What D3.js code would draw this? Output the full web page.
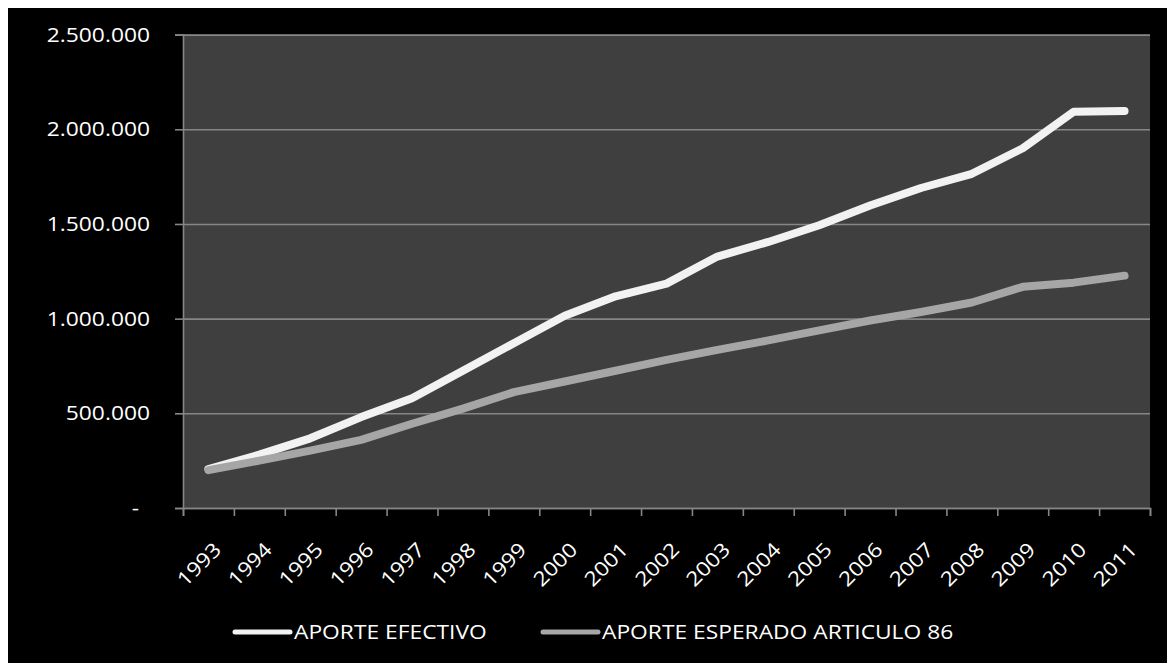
<!DOCTYPE html>
<html>
<head>
<meta charset="utf-8">
<script src="https://cdn.jsdelivr.net/npm/d3@7/dist/d3.min.js"></script>
<style>
  html, body { margin: 0; padding: 0; background: #ffffff; }
  svg { display: block; }
  text { font-family: "Open Sans", "DejaVu Sans", sans-serif; fill: #ffffff; }
</style>
</head>
<body>
<script>
// ---- data ----
const years = ["1993","1994","1995","1996","1997","1998","1999","2000","2001","2002",
               "2003","2004","2005","2006","2007","2008","2009","2010","2011"];
const aporteEfectivo = [205000, 282000, 368000, 480000, 580000, 725000, 870000, 1015000, 1118000, 1185000,
                        1328000, 1405000, 1493000, 1597000, 1690000, 1765000, 1900000, 2093000, 2097000];
const aporteEsperado = [200000, 250000, 303000, 360000, 445000, 525000, 612000, 668000, 725000, 782000,
                        835000, 885000, 938000, 990000, 1035000, 1085000, 1168000, 1190000, 1227000];
const yTickValues = [0, 500000, 1000000, 1500000, 2000000, 2500000];
const yTickLabels = ["-", "500.000", "1.000.000", "1.500.000", "2.000.000", "2.500.000"];
const seriesNames = ["APORTE EFECTIVO", "APORTE ESPERADO ARTICULO 86"];
const seriesColors = ["#f2f2f2", "#a6a6a6"];

const W = 1167, H = 663;
const FS = 20, SX = 1.14;   // font size and horizontal stretch of text
const svg = d3.select("body").append("svg").attr("width", W).attr("height", H);

// chart background (black) with thin white frame at top/left
svg.append("rect").attr("x", 8).attr("y", 8).attr("width", W - 8).attr("height", H - 8).attr("fill", "#000000");

const plot = { left: 183, right: 1150, top: 34.6, bottom: 508 };

const x = d3.scaleBand().domain(years).range([plot.left, plot.right]);
const xEdge = d3.scaleLinear().domain([0, years.length]).range([plot.left, plot.right]);
const y = d3.scaleLinear().domain([0, 2500000]).range([plot.bottom, plot.top]);

// plot area
svg.append("rect")
  .attr("x", plot.left).attr("y", plot.top)
  .attr("width", plot.right - plot.left).attr("height", plot.bottom - plot.top)
  .attr("fill", "#3f3f3f");

const gridColor = "#868686";

// horizontal gridlines
const grid = svg.append("g").attr("transform", `translate(${plot.left},0)`)
  .call(d3.axisLeft(y).tickValues(yTickValues).tickSize(-(plot.right - plot.left)).tickFormat(""));
grid.select(".domain").remove();
grid.selectAll("line").attr("stroke", gridColor).attr("stroke-width", 1.6);

// y axis
const yAxis = svg.append("g").attr("transform", `translate(${plot.left},0)`)
  .call(d3.axisLeft(y).tickValues(yTickValues).tickSize(8).tickFormat(""));
yAxis.select(".domain").attr("stroke", gridColor).attr("stroke-width", 1.6);
yAxis.selectAll("line").attr("stroke", gridColor).attr("stroke-width", 1.6);

// y labels (stretched horizontally)
svg.append("g").selectAll("text").data(yTickValues).join("text")
  .attr("transform", (d) => `translate(${d === 0 ? 139 : 150},${y(d)}) scale(${SX},1)`)
  .attr("text-anchor", "end")
  .attr("dy", "0.35em")
  .attr("font-size", FS)
  .text((d, i) => yTickLabels[i]);

// x axis (ticks at band edges)
const xAxis = svg.append("g").attr("transform", `translate(0,${plot.bottom})`)
  .call(d3.axisBottom(xEdge).tickValues(d3.range(years.length + 1)).tickSize(8).tickFormat(""));
xAxis.select(".domain").attr("stroke", gridColor).attr("stroke-width", 1.6);
xAxis.selectAll("line").attr("stroke", gridColor).attr("stroke-width", 1.6);

// x labels, rotated
svg.append("g").selectAll("text").data(years).join("text")
  .attr("transform", d => `translate(${x(d) + x.bandwidth() / 2 + 9},${plot.bottom + 38}) rotate(-45) scale(${SX},1)`)
  .attr("text-anchor", "end")
  .attr("dy", "0.35em")
  .attr("font-size", FS)
  .text(d => d);

// lines
const line = d3.line()
  .x((d, i) => x(years[i]) + x.bandwidth() / 2)
  .y(d => y(d));

[aporteEfectivo, aporteEsperado].forEach((vals, k) => {
  svg.append("path")
    .datum(vals)
    .attr("d", line)
    .attr("fill", "none")
    .attr("stroke", seriesColors[k])
    .attr("stroke-width", 8)
    .attr("stroke-linejoin", "round")
    .attr("stroke-linecap", "round");
});

// legend
const legendItems = [
  { x0: 235, x1: 290, tx: 294 },
  { x0: 543, x1: 598, tx: 602 }
];
const legendY = 632;
const lg = svg.append("g");
legendItems.forEach((it, k) => {
  lg.append("line")
    .attr("x1", it.x0).attr("x2", it.x1).attr("y1", legendY).attr("y2", legendY)
    .attr("stroke", seriesColors[k]).attr("stroke-width", 5).attr("stroke-linecap", "round");
  lg.append("text")
    .attr("transform", `translate(${it.tx},${legendY}) scale(${SX},1)`)
    .attr("dy", "0.35em")
    .attr("font-size", FS)
    .text(seriesNames[k]);
});
</script>
</body>
</html>
